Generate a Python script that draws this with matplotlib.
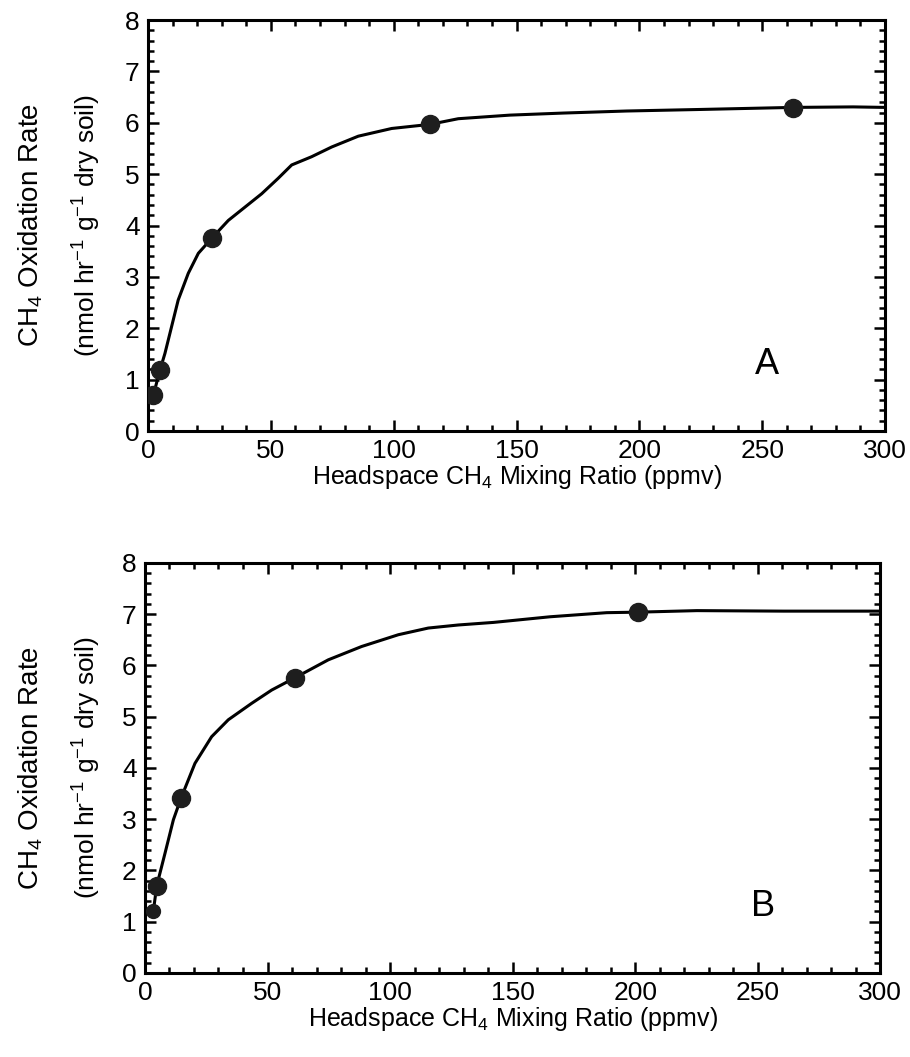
import matplotlib
matplotlib.use('Agg')
import matplotlib.pyplot as plt
from matplotlib.ticker import MultipleLocator

plt.rcParams['font.family'] = ['Liberation Sans', 'DejaVu Sans']
plt.rcParams['mathtext.default'] = 'regular'

a_x = [2.2, 4.9, 25.9, 114.8, 262.4]
a_y = [0.70, 1.19, 3.75, 5.97, 6.29]
a_fit_x = [2.2, 4.9, 6.9, 9.6, 12.3, 16.4, 20.5, 25.9, 32.7, 39.5, 46.3, 53.0,
           58.5, 66.6, 74.8, 85.6, 99.2, 114.8, 126.3, 147.3, 169.0, 194.8,
           224.7, 262.4, 287.0, 300.0]
a_fit_y = [0.70, 1.19, 1.51, 2.03, 2.55, 3.07, 3.46, 3.75, 4.10, 4.36, 4.62, 4.92,
           5.18, 5.34, 5.53, 5.74, 5.89, 5.97, 6.08, 6.15, 6.19, 6.23,
           6.26, 6.30, 6.31, 6.30]

# Panel B
b_x = [3.4, 4.8, 14.7, 61.2, 201.1]
b_y = [1.20, 1.70, 3.41, 5.76, 7.04]
b_fit_x = [3.4, 4.8, 8.2, 11.6, 14.7, 20.4, 27.2, 34.0, 43.5, 51.7, 61.2, 74.8,
           88.4, 103.4, 115.6, 127.9, 142.2, 165.3, 188.4, 201.1, 225.2, 260.5,
           300.0]
b_fit_y = [1.20, 1.70, 2.34, 2.99, 3.41, 4.09, 4.61, 4.94, 5.26, 5.52, 5.76, 6.11,
           6.37, 6.60, 6.73, 6.79, 6.84, 6.95, 7.03, 7.04, 7.07, 7.06,
           7.06]

panels = [
    ('A', a_x, a_y, a_fit_x, a_fit_y, [0.1626, 0.5922, 0.810, 0.3888]),
    ('B', b_x, b_y, b_fit_x, b_fit_y, [0.1593, 0.0795, 0.808, 0.3879]),
]

fig = plt.figure(figsize=(9.10, 10.57), dpi=100)

for letter, px, py, fx, fy, rect in panels:
    ax = fig.add_axes(rect)
    ax.plot(fx, fy, color='black', linewidth=2.2, zorder=2)
    sizes = [10 if i == 0 and letter == 'B' else 13 for i in range(len(px))]
    for x, y, s in zip(px, py, sizes):
        ax.plot(x, y, 'o', color='#1e1e1e', markersize=s, zorder=3)

    ax.set_xlim(0, 300)
    ax.set_ylim(0, 8)
    ax.xaxis.set_major_locator(MultipleLocator(50))
    ax.xaxis.set_minor_locator(MultipleLocator(10))
    ax.yaxis.set_major_locator(MultipleLocator(1))
    ax.yaxis.set_minor_locator(MultipleLocator(0.2))
    ax.tick_params(which='both', direction='in', top=True, right=True, width=1.8,
                   labelsize=19, pad=6)
    ax.tick_params(which='major', length=8)
    ax.tick_params(which='minor', length=4)
    for sp in ax.spines.values():
        sp.set_linewidth(2.2)

    ax.set_xlabel('Headspace CH$_4$ Mixing Ratio (ppmv)', fontsize=18, labelpad=0)
    ax.text(252, 1.3, letter, fontsize=26, ha='center', va='center')

    # two-line y label
    yc = rect[1] + rect[3] / 2
    fig.text(0.034, yc, 'CH$_4$ Oxidation Rate', rotation=90, fontsize=20,
             ha='center', va='center')
    fig.text(0.095, yc, '(nmol hr$^{-1}$ g$^{-1}$ dry soil)', rotation=90,
             fontsize=19, ha='center', va='center')

fig.savefig('out.png', dpi=100)
